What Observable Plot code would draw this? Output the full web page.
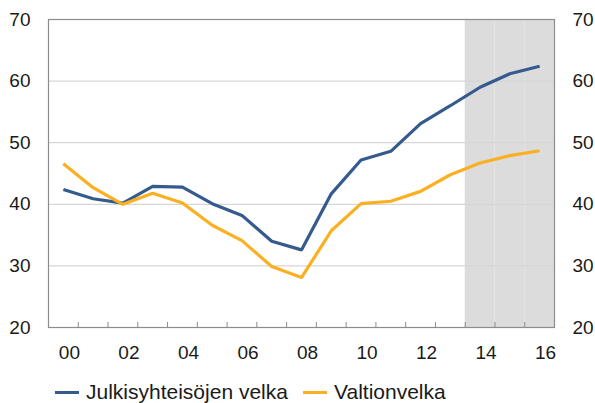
<!DOCTYPE html>
<html>
<head>
<meta charset="utf-8">
<script src="https://cdn.jsdelivr.net/npm/d3@7"></script>
<script src="https://cdn.jsdelivr.net/npm/@observablehq/plot@0.6"></script>
<style>
  html, body { margin: 0; padding: 0; background: #fff; overflow: hidden; }
  body { width: 595px; height: 403px; font-family: "Liberation Sans", Arial, sans-serif; color: #1a1a1a; }
  #legend { position: relative; height: 31px; font-size: 21px; }
  .item { position: absolute; top: 9px; height: 22px; line-height: 22px; display: flex; align-items: center; white-space: nowrap; }
  .sw { display: inline-block; width: 24px; height: 3px; margin-right: 7px; }
</style>
</head>
<body>
<div id="chart"></div>
<div id="legend"></div>
<script>
// ---- data ----
const years = [2000, 2001, 2002, 2003, 2004, 2005, 2006, 2007, 2008, 2009, 2010, 2011, 2012, 2013, 2014, 2015, 2016];
const julkisyhteisojenVelka = [42.4, 40.9, 40.2, 42.9, 42.8, 40.1, 38.2, 34.0, 32.6, 41.7, 47.2, 48.6, 53.1, 56.0, 59.0, 61.2, 62.4];
const valtionvelka = [46.6, 42.7, 40.0, 41.8, 40.2, 36.6, 34.1, 29.9, 28.1, 35.7, 40.1, 40.5, 42.1, 44.8, 46.7, 47.9, 48.7];
const forecastYears = [2014, 2015, 2016];
const seriesNames = ["Julkisyhteisöjen velka", "Valtionvelka"];
const seriesColors = ["#355a8d", "#fbb022"];
const yTicks = [20, 30, 40, 50, 60, 70];
const xLabelYears = [2000, 2002, 2004, 2006, 2008, 2010, 2012, 2014, 2016];

// ---- build ----
const rows = [];
years.forEach((y, i) => {
  rows.push({year: y, value: julkisyhteisojenVelka[i], series: seriesNames[0]});
  rows.push({year: y, value: valtionvelka[i], series: seriesNames[1]});
});
const boundaries = years.slice(1).map(y => y - 0.5);
const yMin = d3.min(yTicks), yMax = d3.max(yTicks);

const W = 595, H = 372, mt = 19, mb = 45, ml = 48, mr = 41;
const fs = 19;

const chart = Plot.plot({
  width: W,
  height: H,
  marginTop: mt,
  marginBottom: mb,
  marginLeft: ml,
  marginRight: mr,
  style: {fontFamily: '"Liberation Sans", Arial, sans-serif', fontSize: fs + "px", color: "#1a1a1a", background: "#fff"},
  x: {domain: [d3.min(years) - 0.5, d3.max(years) + 0.5]},
  y: {domain: [yMin, yMax]},
  marks: [
    Plot.rect(forecastYears, {x1: d => d - 0.5, x2: d => d + 0.5, y1: yMin, y2: yMax, fill: "#dcdcdc"}),
    Plot.ruleY(yTicks.filter(t => t > yMin && t < yMax), {stroke: "#d6d6d6", strokeWidth: 1.2}),
    Plot.tickX(boundaries, {x: d => d, insetTop: H - mt - mb - 5, stroke: "#8c8c8c", strokeWidth: 1}),
    Plot.frame({stroke: "#8c8c8c", strokeWidth: 1.2}),
    Plot.line(rows, {x: "year", y: "value", z: "series", stroke: d => seriesColors[seriesNames.indexOf(d.series)], strokeWidth: 3.2, strokeLinejoin: "miter", strokeLinecap: "butt"}),
    Plot.axisY(yTicks, {anchor: "left", tickSize: 0, tickPadding: 18, fontSize: fs, label: null, fill: "#1a1a1a"}),
    Plot.axisY(yTicks, {anchor: "right", tickSize: 0, tickPadding: 18, fontSize: fs, label: null, fill: "#1a1a1a"}),
    Plot.axisX(xLabelYears, {anchor: "bottom", tickSize: 0, tickPadding: 18, dx: 6, fontSize: fs, label: null, fill: "#1a1a1a", tickFormat: d => String(d % 100).padStart(2, "0")})
  ]
});
document.getElementById("chart").appendChild(chart);

// ---- legend ----
const legend = document.getElementById("legend");
const legendLeft = [55, 303];
seriesNames.forEach((name, i) => {
  const it = document.createElement("div");
  it.className = "item";
  it.style.left = legendLeft[i] + "px";
  const sw = document.createElement("span");
  sw.className = "sw";
  sw.style.background = seriesColors[i];
  const tx = document.createElement("span");
  tx.textContent = name;
  it.appendChild(sw);
  it.appendChild(tx);
  legend.appendChild(it);
});
</script>
</body>
</html>
